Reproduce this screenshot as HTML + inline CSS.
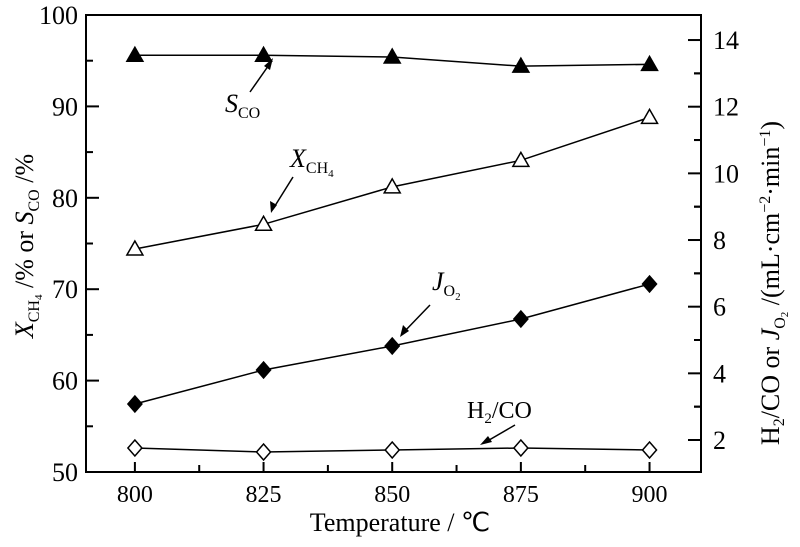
<!DOCTYPE html>
<html><head><meta charset="utf-8"><style>
html,body{margin:0;padding:0;background:#fff}
svg text{font-family:"Liberation Serif",serif;fill:#000}
</style></head><body>
<svg id="c" width="800" height="542" xmlns="http://www.w3.org/2000/svg">
<g id="axes"></g><g id="series"></g>
<g font-size="24">
 <line x1="250" y1="92" x2="271" y2="62" stroke="#000" stroke-width="1.5"/><polygon points="273,58 264,66 270,70" fill="#000"/>
 <text x="225" y="112" font-style="italic" font-size="26">S<tspan font-style="normal" font-size="16" dy="6">CO</tspan></text>
 <text x="290" y="167" font-style="italic" font-size="26">X<tspan font-style="normal" font-size="16" dy="6">CH</tspan><tspan font-style="normal" font-size="11" dy="4">4</tspan></text>
 <line x1="293" y1="177" x2="273" y2="209" stroke="#000" stroke-width="1.5"/><polygon points="271,213 270,201 277,205" fill="#000"/>
 <text x="432" y="290" font-style="italic" font-size="26">J<tspan font-style="normal" font-size="16" dy="6">O</tspan><tspan font-style="normal" font-size="11" dy="4">2</tspan></text>
 <line x1="430" y1="305" x2="403" y2="333" stroke="#000" stroke-width="1.5"/><polygon points="400,337 403,325 409,331" fill="#000"/>
 <text x="467" y="418" font-size="24">H<tspan font-size="15" dy="5">2</tspan><tspan dy="-5">/CO</tspan></text>
 <line x1="515" y1="425" x2="484" y2="443" stroke="#000" stroke-width="1.5"/><polygon points="480,445 488,436 492,442" fill="#000"/>
</g>
<text x="400" y="531" text-anchor="middle" font-size="26">Temperature / ℃</text>
<text transform="translate(33,246) rotate(-90)" text-anchor="middle" font-size="26"><tspan font-style="italic">X</tspan><tspan font-size="16" dy="6">CH</tspan><tspan font-size="11" dy="3">4</tspan><tspan dy="-9"> /% or </tspan><tspan font-style="italic">S</tspan><tspan font-size="16" dy="6">CO</tspan><tspan dy="-6"> /%</tspan></text>
<text transform="translate(779,283) rotate(-90)" text-anchor="middle" font-size="26">H<tspan font-size="16" dy="5">2</tspan><tspan dy="-5">/CO or </tspan><tspan font-style="italic">J</tspan><tspan font-size="16" dy="6">O</tspan><tspan font-size="11" dy="3">2</tspan><tspan dy="-9"> /(mL·cm</tspan><tspan font-size="16" dy="-9">−2</tspan><tspan dy="9">·min</tspan><tspan font-size="16" dy="-9">−1</tspan><tspan dy="9">)</tspan></text>
</svg>
<script>
const temps=[800,825,850,875,900];
const sco=[95.6,95.6,95.4,94.4,94.6];
const xch4=[74.4,77.1,81.2,84.1,88.8];
const jo2=[3.08,4.1,4.82,5.63,6.68];
const h2co=[1.76,1.64,1.7,1.76,1.7];
const xTicks=[800,825,850,875,900];
const leftTicks=[50,60,70,80,90,100];
const rightTicks=[2,4,6,8,10,12,14];
const L=86,R=701,T=15,B=472;
const X=v=>L+(v-790.5)/(910-790.5)*(R-L);
const YL=v=>B-(v-50)/50*(B-T);
const YR=v=>440-(v-2)*33.33;
const NS="http://www.w3.org/2000/svg";
function mk(p,tag,a){const e=document.createElementNS(NS,tag);for(const k in a)e.setAttribute(k,a[k]);p.appendChild(e);return e;}
const ax=document.getElementById('axes');
const fr=mk(ax,'rect',{x:L,y:T,width:R-L,height:B-T,fill:'none',stroke:'#000','stroke-width':2});


xTicks.forEach(v=>{const x=X(v);mk(ax,'line',{x1:x,y1:B,x2:x,y2:B-10,stroke:'#000','stroke-width':2});
 const t=mk(ax,'text',{x:x,y:B+30,'text-anchor':'middle','font-size':24});t.textContent=v;
 
 
 if(v<900){const m=X(v+12.5);mk(ax,'line',{x1:m,y1:B,x2:m,y2:B-7,stroke:'#000','stroke-width':2});}});
leftTicks.forEach(v=>{const y=YL(v);mk(ax,'line',{x1:L,y1:y,x2:L+13,y2:y,stroke:'#000','stroke-width':2});
 const t=mk(ax,'text',{x:L-8,y:y+9,'text-anchor':'end','font-size':26});t.textContent=v;
 
 
 if(v<100){const m=YL(v+5);mk(ax,'line',{x1:L,y1:m,x2:L+7,y2:m,stroke:'#000','stroke-width':2});}});
rightTicks.forEach(v=>{const y=YR(v);mk(ax,'line',{x1:R,y1:y,x2:R-13,y2:y,stroke:'#000','stroke-width':2});
 const t=mk(ax,'text',{x:R+12,y:y+9,'font-size':26});t.textContent=v;
 
 
 [v-1,v+1].forEach(m=>{if(m>1.1&&m<14.7&&m%2){const yy=YR(m);mk(ax,'line',{x1:R,y1:yy,x2:R-7,y2:yy,stroke:'#000','stroke-width':2});}});});
const se=document.getElementById('series');
function series(name,vals,yf,shape,fill){
 const g=mk(se,'g',{});
 
 
 mk(g,'polyline',{points:vals.map((v,i)=>X(temps[i])+','+yf(v)).join(' '),fill:'none',stroke:'#000','stroke-width':1.5});
 vals.forEach((v,i)=>{const x=X(temps[i]),y=yf(v);let p;
  if(shape==='tri')p=mk(g,'polygon',{points:`${x},${y-8} ${x-8},${y+6} ${x+8},${y+6}`,fill:fill,stroke:'#000','stroke-width':1.5});
  else p=mk(g,'polygon',{points:`${x},${y-8} ${x+7},${y} ${x},${y+8} ${x-7},${y}`,fill:fill,stroke:'#000','stroke-width':1.5});
  
  });
}
series('sco-series',sco,YL,'tri','#000');
series('xch4-series',xch4,YL,'tri','#fff');
series('jo2-series',jo2,YR,'dia','#000');
series('h2co-series',h2co,YR,'dia','#fff');
</script>
</body></html>
